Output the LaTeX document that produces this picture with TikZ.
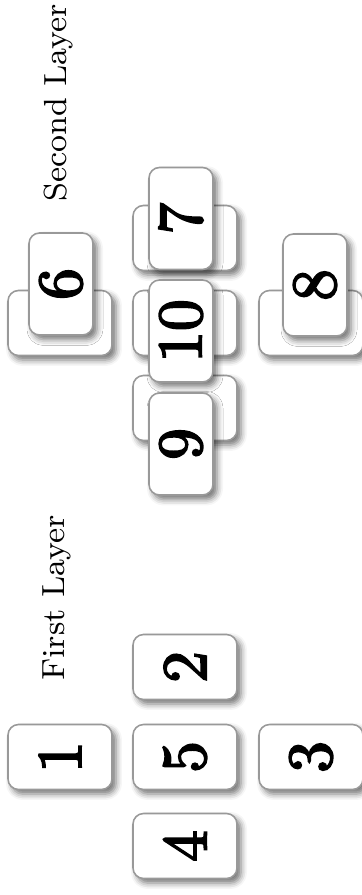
\documentclass[tikz,border=0pt]{standalone}
\usepackage{graphicx}
\usetikzlibrary{shadows.blur}

\font\tiledigits="[lmroman10-regular.otf]:embolden=3" at 18pt
\font\layerfont="[lmroman8-regular.otf]" at 9.1pt

\tikzset{
  tile/.style={draw=gray!80, fill=white, rounded corners=3pt, line width=0.45pt,
    blur shadow={shadow xshift=0.04cm, shadow yshift=-0.045cm, shadow blur radius=0.06cm, shadow opacity=55},
    inner sep=0pt, font=\tiledigits},
  lowtile/.style={tile, minimum width=1.04cm, minimum height=0.65cm},
  hightile/.style={tile, minimum width=0.64cm, minimum height=1.02cm},
  layerlabel/.style={rotate=90, inner sep=0pt, font=\layerfont}
}

\begin{document}
\begin{tikzpicture}
  \useasboundingbox (0,0) rectangle (3.62,8.95);

  % First layer
  \node[layerlabel] (first) at (0.57,2.97) {First Layer};
  \node[lowtile] (t1) at (0.60,1.38) {\rotatebox{90}{1}};
  \node[lowtile] (t2) at (1.85,2.28) {\rotatebox{90}{2}};
  \node[lowtile] (t5) at (1.85,1.38) {\rotatebox{90}{5}};
  \node[lowtile] (t3) at (3.11,1.38) {\rotatebox{90}{3}};
  \node[lowtile] (t4) at (1.85,0.49) {\rotatebox{90}{4}};

  % Second layer: first layer underneath
  \node[layerlabel] (second) at (0.59,7.92) {Second Layer};
  \node[lowtile] (b1) at (0.60,5.72) {};
  \node[lowtile] (b2) at (1.85,6.57) {};
  \node[lowtile] (b5) at (1.85,5.72) {};
  \node[lowtile] (b3) at (3.11,5.72) {};
  \node[lowtile] (b4) at (1.85,4.87) {};

  % Second layer: tiles on top
  \node[hightile] (t6) at (0.61,6.11) {\rotatebox{90}{6}};
  \node[hightile] (t7) at (1.81,6.765) {\rotatebox{90}{7}};
  \node[hightile] (t10) at (1.81,5.64) {\rotatebox{90}{10}};
  \node[hightile] (t9) at (1.81,4.51) {\rotatebox{90}{9}};
  \node[hightile] (t8) at (3.15,6.10) {\rotatebox{90}{8}};
\end{tikzpicture}
\end{document}
